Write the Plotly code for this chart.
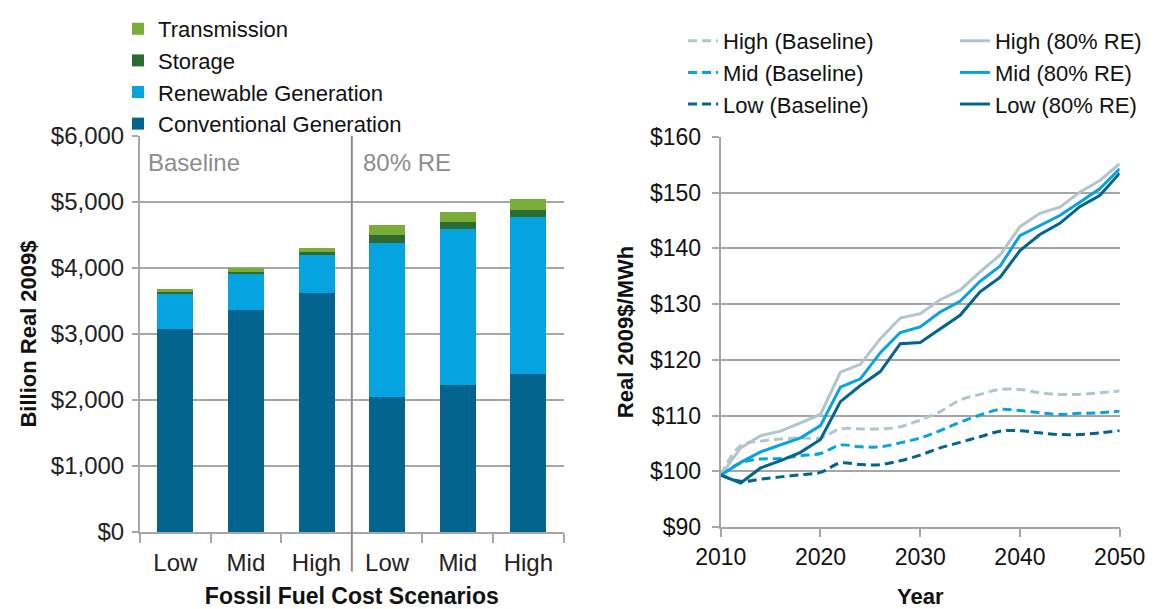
import plotly.graph_objects as go

# --- Left panel: cumulative system costs (Billion real 2009$) ---
scenarios = ["Low", "Mid", "High", "Low", "Mid", "High"]
conventional = [3080, 3360, 3620, 2040, 2220, 2400]
renewable = [530, 550, 590, 2345, 2370, 2380]
storage = [20, 35, 30, 110, 105, 100]
transmission = [50, 55, 60, 155, 160, 165]
group_labels = ["Baseline", "80% RE"]

# --- Right panel: average electricity price (Real 2009$/MWh) ---
years = list(range(2010, 2051, 2))
high_base = [99.3, 104.6, 105.4, 105.8, 106.0, 106.0, 107.6, 107.6, 107.6, 108.0, 109.2,
             110.7, 112.8, 113.8, 114.7, 114.7, 114.1, 113.8, 113.8, 114.1, 114.4]
mid_base = [99.3, 101.5, 102.2, 102.3, 102.8, 103.2, 104.7, 104.4, 104.4, 105.1, 106.0,
            107.3, 108.8, 110.1, 111.1, 110.9, 110.5, 110.2, 110.4, 110.5, 110.8]
low_base = [99.3, 98.2, 98.6, 99.0, 99.4, 99.8, 101.5, 101.2, 101.2, 101.9, 102.9,
            104.2, 105.2, 106.2, 107.2, 107.3, 106.9, 106.6, 106.6, 106.9, 107.3]
high_re = [99.3, 104.2, 106.4, 107.2, 108.7, 110.2, 117.8, 119.2, 123.8, 127.5, 128.3,
           130.8, 132.5, 135.8, 138.8, 143.9, 146.3, 147.4, 150.1, 152.2, 155.2]
mid_re = [99.3, 101.6, 103.5, 104.8, 106.0, 108.2, 115.1, 116.6, 121.3, 124.9, 125.9,
          128.6, 130.5, 134.1, 136.8, 142.3, 144.1, 145.9, 148.3, 150.7, 154.3]
low_re = [99.3, 97.9, 100.6, 101.9, 103.4, 105.7, 112.5, 115.4, 117.9, 122.9, 123.1,
          125.5, 128.0, 132.2, 134.8, 139.6, 142.5, 144.5, 147.5, 149.5, 153.5]

FONT = "Liberation Sans, Arial, sans-serif"
GRID = "#A6A6A6"
C_CONV, C_REN, C_STOR, C_TRANS = "#03658F", "#05A3E0", "#2E6B30", "#79AC39"
C_HIGH, C_MID, C_LOW = "#B0C6CC", "#05A3E0", "#03658F"

fig = go.Figure()

xpos = list(range(len(scenarios)))
for name, vals, col in [("Conventional Generation", conventional, C_CONV),
                        ("Renewable Generation", renewable, C_REN),
                        ("Storage", storage, C_STOR),
                        ("Transmission", transmission, C_TRANS)]:
    fig.add_trace(go.Bar(x=xpos, y=vals, name=name, marker_color=col,
                         marker_line_width=0, xaxis="x", yaxis="y", legend="legend"))

dash = "9px,5px"
for name, vals, col, dsh, shape, lg in [
        ("High (Baseline)", high_base, C_HIGH, dash, "spline", "legend2"),
        ("Mid (Baseline)", mid_base, C_MID, dash, "spline", "legend2"),
        ("Low (Baseline)", low_base, C_LOW, dash, "spline", "legend2"),
        ("High (80% RE)", high_re, C_HIGH, "solid", "linear", "legend3"),
        ("Mid (80% RE)", mid_re, C_MID, "solid", "linear", "legend3"),
        ("Low (80% RE)", low_re, C_LOW, "solid", "linear", "legend3")]:
    fig.add_trace(go.Scatter(x=years, y=vals, name=name, mode="lines",
                             line=dict(color=col, width=3, dash=dsh, shape=shape),
                             xaxis="x2", yaxis="y2", legend=lg))

# Divider between Baseline and 80% RE groups
fig.add_shape(type="line", xref="x", yref="y domain", x0=2.5, x1=2.5, y0=-0.1, y1=1,
              line=dict(color="#8C8C8C", width=2))
fig.add_annotation(x=-0.5, y=1, xref="x", yref="y domain", text=group_labels[0],
                   showarrow=False, xanchor="left", yanchor="top", xshift=6, yshift=-11,
                   font=dict(size=24, color="#8C8C8C", family=FONT))
fig.add_annotation(x=2.5, y=1, xref="x", yref="y domain", text=group_labels[1],
                   showarrow=False, xanchor="left", yanchor="top", xshift=9, yshift=-11,
                   font=dict(size=24, color="#8C8C8C", family=FONT))

legend_common = dict(bgcolor="rgba(0,0,0,0)", xanchor="left", yanchor="top", tracegroupgap=0)

# page body adds an 8px offset, so the figure is 8px smaller than the window
fig.update_layout(
    width=1152, height=601,
    margin=dict(l=0, r=0, t=0, b=0),
    paper_bgcolor="white", plot_bgcolor="white",
    font=dict(family=FONT, size=24, color="#111"),
    barmode="stack", bargap=0.49,
    xaxis=dict(domain=[0.1146, 0.4823], range=[-0.5, 5.5], automargin=False,
               tickmode="array", tickvals=xpos, ticktext=scenarios, ticks="",
               ticklabelstandoff=8,
               showline=True, linecolor=GRID, linewidth=2, showgrid=False, zeroline=False,
               minor=dict(tickmode="array", tickvals=[-0.5, 0.5, 1.5, 3.5, 4.5, 5.5],
                          ticks="outside", ticklen=9, tickcolor=GRID, tickwidth=2, showgrid=False),
               tickfont=dict(size=24, color="#222"),
               title=dict(text="<b>Fossil Fuel Cost Scenarios</b>", font=dict(size=23), standoff=13)),
    yaxis=dict(domain=[0.1281, 0.7870], range=[0, 6000], dtick=1000, automargin=False,
               tickprefix="$", tickformat=",d", ticks="outside", ticklen=6,
               tickcolor=GRID, tickwidth=2, ticklabelstandoff=3,
               showline=True, linecolor=GRID, linewidth=2, gridcolor=GRID, gridwidth=1.5,
               zeroline=False, tickfont=dict(size=24, color="#222"),
               title=dict(text="<b>Billion Real 2009$</b>", font=dict(size=22), standoff=8)),
    xaxis2=dict(domain=[0.6187, 0.9650], range=[2010, 2050], dtick=10, automargin=False,
                ticks="outside", ticklen=8, tickcolor=GRID, tickwidth=2,
                ticklabeloverflow="allow",
                showline=True, linecolor=GRID, linewidth=2, showgrid=False, zeroline=False,
                tickfont=dict(size=23, color="#111"), anchor="y2",
                title=dict(text="<b>Year</b>", font=dict(size=22), standoff=21)),
    yaxis2=dict(domain=[0.1364, 0.7854], range=[90, 160], dtick=10, automargin=False,
                tickprefix="$", ticks="outside", ticklen=7, tickcolor=GRID, tickwidth=2,
                ticklabelstandoff=6,
                showline=True, linecolor=GRID, linewidth=2, gridcolor=GRID, gridwidth=1.5,
                zeroline=False, tickfont=dict(size=23, color="#111"), anchor="x2",
                title=dict(text="<b>Real 2009$/MWh</b>", font=dict(size=22), standoff=10)),
    legend=dict(x=0.0955, y=1.0, traceorder="reversed",
                font=dict(size=22, family=FONT, color="#111"), **legend_common),
    legend2=dict(x=0.586, y=0.98, traceorder="normal",
                 font=dict(size=22, family=FONT, color="#111"), **legend_common),
    legend3=dict(x=0.822, y=0.98, traceorder="normal",
                 font=dict(size=22, family=FONT, color="#111"), **legend_common),
    showlegend=True,
)

fig.write_html("out.html")
